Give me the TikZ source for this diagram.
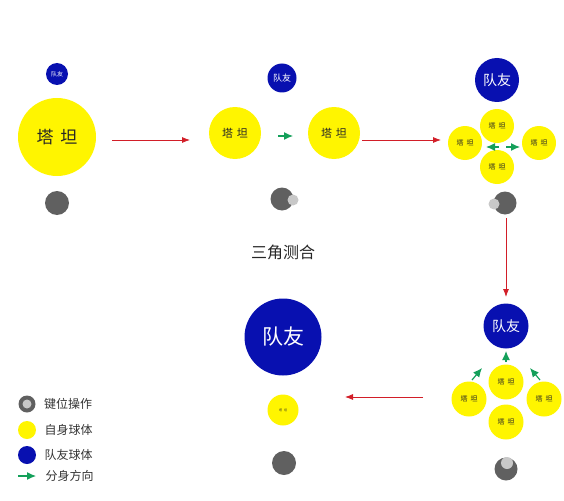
\documentclass[tikz,border=0pt]{standalone}
\usepackage{fontspec}
\setmainfont{Noto Sans CJK SC}
\usepackage{tikz}
\usetikzlibrary{arrows, arrows.meta, positioning, calc}
\definecolor{qiuhuang}{RGB}{255,245,0}
\definecolor{qiulan}{RGB}{8,16,176}
\definecolor{jianhui}{RGB}{96,96,96}
\definecolor{jianqian}{RGB}{200,200,200}
\definecolor{jiantou}{RGB}{210,30,40}
\definecolor{fenlv}{RGB}{20,160,90}
\newcommand{\zihao}[1]{\fontsize{#1}{#1}\selectfont}
\tikzset{>=stealth}
\tikzset{
	ziji/.style={circle, fill=qiuhuang, inner sep=0pt, text=black!85},
	duiyou/.style={circle, fill=qiulan, inner sep=0pt, text=white},
	jianwei/.style={circle, fill=jianhui, inner sep=0pt, minimum size=24pt},
	anxia/.style={circle, fill=jianqian, inner sep=0pt, minimum size=11pt},
	liucheng/.style={jiantou, line width=0.8pt, -{Latex[length=8pt, width=6pt]}},
	fenshen/.style={fenlv, line width=1.2pt, -{Latex[length=9pt, width=8pt]}}
}

\begin{document}
\begin{tikzpicture}[x=1pt, y=-1pt]

	\useasboundingbox (0,0) rectangle (564,500);

	% stage 1
	\node [duiyou, minimum size=22pt] (d1) at (57,74) {\zihao{6}队友};
	\node [ziji, minimum size=78pt] (t1) at (57,137) {\zihao{17}塔\hspace{7pt}坦};
	\node [jianwei] (k1) at (57,203) {};

	\coordinate (a1s) at (112,140);
	\coordinate (a1e) at (190,140);
	\draw [liucheng] (a1s) -- (a1e);

	% stage 2
	\node [duiyou, minimum size=29pt] (d2) at (282,78) {\zihao{9}队友};
	\node [ziji, minimum size=52pt] (t2a) at (235,133) {\zihao{11}塔\hspace{4pt}坦};
	\node [ziji, minimum size=52pt] (t2b) at (334,133) {\zihao{11}塔\hspace{4pt}坦};
	\coordinate (g2s) at (278,136);
	\coordinate (g2e) at (293,136);
	\draw [fenshen] (g2s) -- (g2e);
	\node [jianwei, minimum size=23pt] (k2) at (282,199) {};
	\node [anxia] (p2) at (293,200) {};

	\coordinate (a2s) at (362,140);
	\coordinate (a2e) at (441,140);
	\draw [liucheng] (a2s) -- (a2e);

	% stage 3
	\node [duiyou, minimum size=44pt] (d3) at (497,80) {\zihao{14}队友};
	\node [ziji, minimum size=34pt] (t3u) at (497,126) {\zihao{7}塔\hspace{3pt}坦};
	\node [ziji, minimum size=34pt] (t3d) at (497,167) {\zihao{7}塔\hspace{3pt}坦};
	\node [ziji, minimum size=34pt] (t3l) at (465,143) {\zihao{7}塔\hspace{3pt}坦};
	\node [ziji, minimum size=34pt] (t3r) at (539,143) {\zihao{7}塔\hspace{3pt}坦};
	\coordinate (g3c) at (503,147);
	\coordinate (g3l) at (486,147);
	\coordinate (g3r) at (520,147);
	\draw [fenshen] ($(g3c)+(-4,0)$) -- (g3l);
	\draw [fenshen] ($(g3c)+(3,0)$) -- (g3r);
	\node [jianwei, minimum size=23pt] (k3) at (505,203) {};
	\node [anxia] (p3) at (494,204) {};

	\coordinate (a3s) at (506,218);
	\coordinate (a3e) at (506,297);
	\draw [liucheng] (a3s) -- (a3e);

	% stage 4
	\node [duiyou, minimum size=45pt] (d4) at (506,326) {\zihao{14}队友};
	\node [ziji, minimum size=35pt] (t4u) at (506,382) {\zihao{7}塔\hspace{3pt}坦};
	\node [ziji, minimum size=35pt] (t4d) at (506,422) {\zihao{7}塔\hspace{3pt}坦};
	\node [ziji, minimum size=35pt] (t4l) at (469,399) {\zihao{7}塔\hspace{3pt}坦};
	\node [ziji, minimum size=35pt] (t4r) at (544,399) {\zihao{7}塔\hspace{3pt}坦};
	\coordinate (g4a) at (506,362);
	\coordinate (g4b) at (506,351);
	\coordinate (g4c) at (472,380);
	\coordinate (g4d) at (482,368);
	\coordinate (g4e) at (540,380);
	\coordinate (g4f) at (530,368);
	\draw [fenshen] (g4a) -- (g4b);
	\draw [fenshen] (g4c) -- (g4d);
	\draw [fenshen] (g4e) -- (g4f);
	\node [jianwei, minimum size=23pt] (k4) at (506,469) {};
	\node [anxia, minimum size=12pt] (p4) at (507,463) {};

	\coordinate (a4s) at (423,397);
	\coordinate (a4e) at (345,397);
	\draw [liucheng] (a4s) -- (a4e);

	% stage 5
	\node [duiyou, minimum size=77pt] (d5) at (283,337) {\zihao{21}队友};
	\node [ziji, minimum size=31pt] (t5) at (283,410) {\zihao{3}塔\hspace{2pt}坦};
	\node [jianwei] (k5) at (284,463) {};

	% title
	\node [text=black!85] (biaoti) at (283,252) {\zihao{16}三角测合};

	% legend
	\node [jianwei, minimum size=17pt] (lk) at (27,404) {};
	\node [anxia, minimum size=9pt] (lkp) at (27,404) {};
	\node [right=5pt of lk.east, anchor=west, text=black!80] (lkt) {\zihao{12}键位操作};
	\node [ziji, minimum size=18pt] (lz) at (27,430) {};
	\node [right=5pt of lz.east, anchor=west, text=black!80] (lzt) {\zihao{12}自身球体};
	\node [duiyou, minimum size=18pt] (ld) at (27,455) {};
	\node [right=5pt of ld.east, anchor=west, text=black!80] (ldt) {\zihao{12}队友球体};
	\coordinate (lgs) at (18,476);
	\coordinate (lge) at (36,476);
	\draw [fenshen] (lgs) -- (lge);
	\node [right=6pt of lge, anchor=west, text=black!80] (lgt) {\zihao{12}分身方向};

\end{tikzpicture}
\end{document}
